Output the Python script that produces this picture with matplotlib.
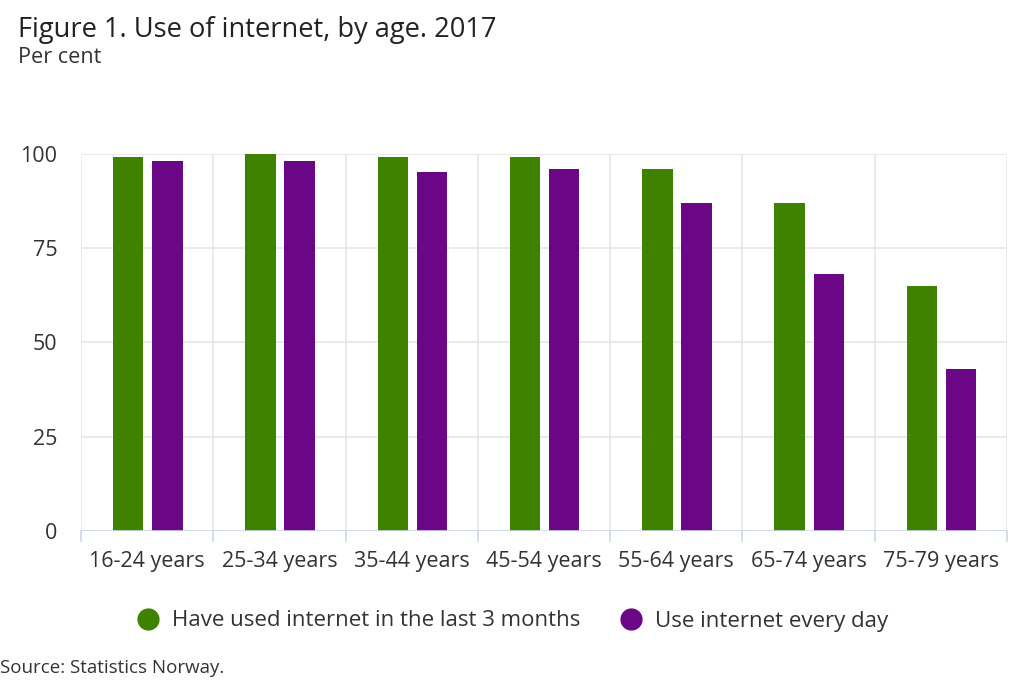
import matplotlib
matplotlib.use("Agg")
import matplotlib.pyplot as plt
import numpy as np
from matplotlib.lines import Line2D

categories = ["16-24 years", "25-34 years", "35-44 years", "45-54 years",
              "55-64 years", "65-74 years", "75-79 years"]
used_3_months = [99, 100, 99, 99, 96, 87, 65]
every_day = [98, 98, 95, 96, 87, 68, 43]
series_names = ["Have used internet in the last 3 months", "Use internet every day"]
yticks = [0, 25, 50, 75, 100]

GREEN = "#3f8200"
PURPLE = "#6b0787"
TEXT = "#333333"

plt.rcParams['font.family'] = ['Open Sans', 'DejaVu Sans']

fig = plt.figure(figsize=(10.24, 6.83), dpi=100)
ax = fig.add_axes([81/1024, 1 - 531/683, (1007-81)/1024, (531-153.5)/683])

x = np.arange(len(categories))
w = 0.23
off = 0.148
ax.bar(x - off + 0.005, used_3_months, width=w, color=GREEN, zorder=3)
ax.bar(x + off + 0.005, every_day, width=w, color=PURPLE, zorder=3)

ax.set_xlim(-0.5, len(categories) - 0.5)
ax.set_ylim(0, 100)
ax.set_yticks(yticks)
ax.set_yticklabels([str(v) for v in yticks], fontsize=15.5, color=TEXT)
ax.tick_params(axis='y', length=0, pad=17)

ax.set_xticks(x)
ax.set_xticklabels(categories, fontsize=15.5, color=TEXT)
ax.tick_params(axis='x', length=0, pad=14.5)

# gridlines
for v in yticks[1:]:
    ax.axhline(v, color="#e6e6e6", lw=1.2, zorder=1)
for b in np.arange(-0.5, len(categories) + 0.5, 1):
    ax.axvline(b, color="#e6e6e6", lw=1.2, zorder=1)
    ax.plot([b, b], [0, -2.6], color="#ccd6eb", lw=1.2, clip_on=False, zorder=2)
ax.axhline(0, color="#ccd6eb", lw=1.2, zorder=4)

for s in ax.spines.values():
    s.set_visible(False)

fig.text(18/1024, 1 - 37/683, "Figure 1. Use of internet, by age. 2017",
         fontsize=19.6, color="#222222", ha='left', va='baseline')
fig.text(18/1024, 1 - 63/683, "Per cent", fontsize=15.6, color=TEXT,
         ha='left', va='baseline')

handles = [Line2D([], [], marker='o', ls='none', color=GREEN, markersize=15),
           Line2D([], [], marker='o', ls='none', color=PURPLE, markersize=15)]
fig.legend(handles, series_names, loc='center', bbox_to_anchor=(507/1024, 1 - 621/683),
           ncol=2, frameon=False, fontsize=16, handletextpad=0.05, columnspacing=1.3,
           labelcolor=TEXT)

fig.text(0, 1 - 673/683, "Source: Statistics Norway.", fontsize=13.5, color=TEXT,
         ha='left', va='baseline')

fig.savefig("out.png", dpi=100, facecolor="white")
